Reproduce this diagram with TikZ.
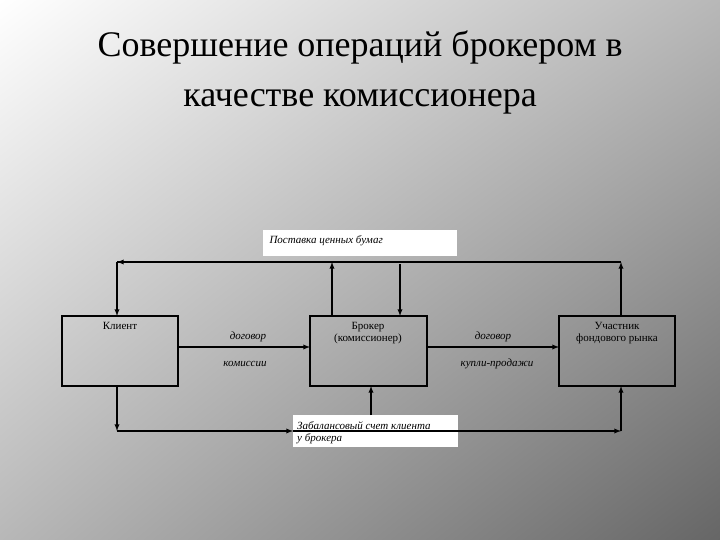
\documentclass[tikz,border=0pt]{standalone}
\usepackage{fontspec}
\usetikzlibrary{shadings}
\setmainfont{Liberation Serif}
\begin{document}
\begin{tikzpicture}[x=1pt,y=-1pt,
  box/.style={draw,line width=1.6pt},
  ln/.style={line width=1.3pt,-latex},
  lbl/.style={font=\fontsize{11}{12}\selectfont\itshape},
  bt/.style={font=\fontsize{11}{12}\selectfont,align=center,anchor=north},
  wb/.style={fill=white,draw=none}]
\useasboundingbox (0,0) rectangle (720,540);
\shade[upper left=white, upper right=black!28, lower left=black!28, lower right=black!60] (0,0) rectangle (720,540);
\node[font=\fontsize{36}{50}\selectfont,align=center] (title) at (360,72) {Совершение операций брокером в\\качестве комиссионера};
\node[wb,minimum width=194pt,minimum height=26pt,anchor=north west] (top) at (263,230) {};
\node[lbl,anchor=west] (toptxt) at (266,241) {Поставка ценных бумаг};
\node[wb,minimum width=165pt,minimum height=32pt,anchor=north west] (bot) at (293,415) {};
\node[lbl,anchor=north west,align=left,inner sep=0pt] (bottxt) at (297,421) {Забалансовый счет клиента\\у брокера};
\draw[box] (62,316) rectangle (178,386);
\draw[box] (310,316) rectangle (427,386);
\draw[box] (559,316) rectangle (675,386);
\node[bt] (cltxt) at (120,319) {Клиент};
\node[bt] (brtxt) at (368,319) {Брокер\\(комиссионер)};
\node[bt] (patxt) at (617,319) {Участник\\фондового рынка};
\coordinate (tl) at (117,262); \coordinate (tr) at (621,262);
\coordinate (bl) at (117,431); \coordinate (brr) at (621,431);
\draw[ln] (621,316) -- (tr);
\draw[line width=1.3pt] (tr) -- (tl);
\draw[ln] (135,262) -- (tl);
\draw[ln] (tl) -- (117,316);
\draw[ln] (332,316) -- (332,262);
\draw[ln] (400,264) -- (400,316);
\draw[ln] (117,386) -- (bl);
\draw[ln] (bl) -- (293,431);
\draw[ln] (293,431) -- (brr);
\draw[ln] (brr) -- (621,386);
\draw[ln] (371,415) -- (371,386);
\draw[ln] (178,347) -- (310,347);
\draw[ln] (427,347) -- (559,347);
\node[lbl] (d1) at (248,337) {договор};
\node[lbl] (k1) at (245,364) {комиссии};
\node[lbl] (d2) at (493,337) {договор};
\node[lbl] (k2) at (497,364) {купли-продажи};
\end{tikzpicture}
\end{document}
